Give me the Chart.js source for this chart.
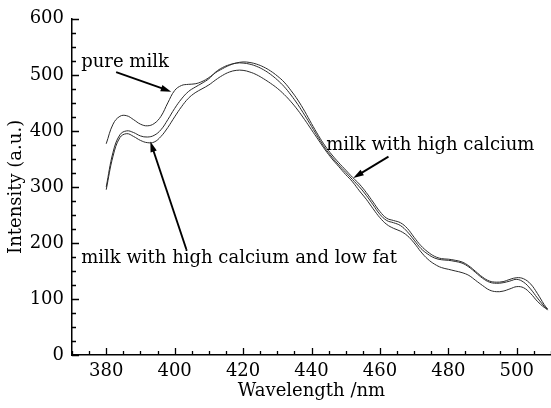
<!DOCTYPE html>
<html>
<head>
<meta charset="utf-8">
<script src="https://cdn.jsdelivr.net/npm/chart.js@4"></script>
<style>
  html, body { margin: 0; padding: 0; background: #fff; }
  #wrap { width: 551px; height: 408px; }
</style>
</head>
<body>
<div id="wrap"><canvas id="myChart" width="551" height="408"></canvas></div>
<script>
// wavelength (nm)
const wavelengths = [
  380, 382, 384, 386, 388, 390, 392, 394, 396, 398,
  400, 402, 404, 406, 408, 410, 412, 414, 416, 418,
  420, 422, 424, 426, 428, 430, 432, 434, 436, 438,
  440, 442, 444, 446, 448, 450, 452, 454, 456, 458,
  460, 462, 464, 466, 468, 470, 472, 474, 476, 478,
  480, 482, 484, 486, 488, 490, 492, 494, 496, 498,
  500, 502, 504, 506, 508, 509
];

const pureMilk = [
  377, 412, 426, 427, 420, 412, 409, 413, 426, 450,
  472, 481, 483, 484, 488, 495, 504, 511, 517, 521,
  523, 522, 519, 514, 507, 498, 487, 472, 455, 435,
  413, 392, 373, 357, 343, 330, 317, 305, 290, 273,
  256, 244, 240, 236, 226, 210, 195, 184, 176, 172,
  171, 169, 166, 159, 149, 139, 132, 130, 131, 135,
  138, 136, 127, 110, 90, 82
];

const highCalcium = [
  300, 362, 393, 400, 397, 391, 389, 392, 402, 420,
  440, 457, 470, 478, 485, 493, 505, 513, 518, 521,
  521, 519, 515, 509, 501, 491, 479, 464, 447, 428,
  408, 388, 369, 353, 339, 326, 313, 300, 285, 268,
  251, 240, 236, 231, 220, 205, 190, 180, 173, 170,
  169, 167, 164, 157, 147, 137, 130, 128, 129, 132,
  135, 130, 118, 102, 87, 80
];

const highCalciumLowFat = [
  295, 355, 388, 395, 390, 383, 379, 380, 390, 406,
  425, 443, 458, 468, 475, 482, 491, 499, 505, 508,
  508, 505, 500, 493, 485, 476, 465, 452, 437, 420,
  402, 384, 366, 350, 336, 322, 309, 293, 278, 261,
  245, 233, 226, 221, 213, 200, 184, 171, 162, 156,
  153, 150, 147, 142, 133, 124, 116, 113, 114, 118,
  122, 120, 110, 96, 85, 82
];

const xTickLabels = [380, 400, 420, 440, 460, 480, 500];
const yTickLabels = [0, 100, 200, 300, 400, 500, 600];

// label text, text anchor and arrow (tail -> head), in data units
const notes = [
  { text: "pure milk", at: [372.7, 514], from: [382.9, 505], to: [399.0, 470] },
  { text: "milk with high calcium", at: [444.3, 365], from: [462.5, 354], to: [452.2, 316] },
  { text: "milk with high calcium and low fat", at: [372.7, 165], from: [403.4, 189], to: [392.9, 381] },
];

const FONT = "DejaVu Serif";
const SIZE = 18;
const INK = "#000";

const toPoints = (ys) => ys.map((y, i) => ({ x: wavelengths[i], y: y }));

const lineStyle = {
  borderColor: "#2a2a2a",
  borderWidth: 1,
  pointRadius: 0,
  tension: 0.4,
  fill: false,
};

const axisExtras = {
  id: "axisExtras",
  afterDraw(chart) {
    const ctx = chart.ctx;
    const x = chart.scales.x;
    const y = chart.scales.y;
    const area = chart.chartArea;
    ctx.save();
    ctx.strokeStyle = INK;
    ctx.lineWidth = 1.3;
    ctx.beginPath();
    // inward ticks on the x axis
    for (let v = x.min; v <= x.max; v += 5) {
      const px = Math.round(x.getPixelForValue(v)) + 0.5;
      const len = v % 20 === 0 ? 7 : 4;
      ctx.moveTo(px, area.bottom);
      ctx.lineTo(px, area.bottom - len);
    }
    // inward ticks on the y axis
    for (let v = y.min; v <= y.max; v += 25) {
      const py = Math.round(y.getPixelForValue(v)) + 0.5;
      const len = v % 100 === 0 ? 7 : 4;
      ctx.moveTo(area.left, py);
      ctx.lineTo(area.left + len, py);
    }
    ctx.stroke();

    // annotations
    ctx.fillStyle = INK;
    ctx.font = SIZE + "px '" + FONT + "'";
    ctx.textAlign = "left";
    ctx.textBaseline = "alphabetic";
    notes.forEach((n) => {
      ctx.fillText(n.text, x.getPixelForValue(n.at[0]), y.getPixelForValue(n.at[1]));
      const x0 = x.getPixelForValue(n.from[0]);
      const y0 = y.getPixelForValue(n.from[1]);
      const x1 = x.getPixelForValue(n.to[0]);
      const y1 = y.getPixelForValue(n.to[1]);
      const ang = Math.atan2(y1 - y0, x1 - x0);
      const head = 11;
      const wing = 0.3;
      ctx.lineWidth = 1.8;
      ctx.beginPath();
      ctx.moveTo(x0, y0);
      ctx.lineTo(x1 - Math.cos(ang) * head * 0.8, y1 - Math.sin(ang) * head * 0.8);
      ctx.stroke();
      ctx.beginPath();
      ctx.moveTo(x1, y1);
      ctx.lineTo(x1 - head * Math.cos(ang - wing), y1 - head * Math.sin(ang - wing));
      ctx.lineTo(x1 - head * Math.cos(ang + wing), y1 - head * Math.sin(ang + wing));
      ctx.closePath();
      ctx.fill();
    });
    ctx.restore();
  },
};

const ctx = document.getElementById("myChart").getContext("2d");
new Chart(ctx, {
  type: "line",
  data: {
    datasets: [
      { label: "pure milk", data: toPoints(pureMilk), ...lineStyle },
      { label: "milk with high calcium", data: toPoints(highCalcium), ...lineStyle },
      { label: "milk with high calcium and low fat", data: toPoints(highCalciumLowFat), ...lineStyle },
    ],
  },
  options: {
    responsive: false,
    animation: false,
    layout: { padding: { top: 13, right: 0, left: 0, bottom: 0 } },
    plugins: {
      legend: { display: false },
      tooltip: { enabled: false },
    },
    scales: {
      x: {
        type: "linear",
        min: 370,
        max: 510,
        afterBuildTicks: (s) => { s.ticks = xTickLabels.map((v) => ({ value: v })); },
        afterFit: (s) => { s.height = 53; },
        grid: { display: false, drawTicks: false },
        border: { display: true, color: INK, width: 1.5 },
        ticks: { color: INK, font: { family: FONT, size: SIZE }, padding: 6, maxRotation: 0 },
        title: {
          display: true,
          text: "Wavelength /nm",
          color: INK,
          font: { family: FONT, size: SIZE },
          padding: { top: 0, bottom: 6 },
        },
      },
      y: {
        min: 0,
        max: 600,
        afterBuildTicks: (s) => { s.ticks = yTickLabels.map((v) => ({ value: v })); },
        afterFit: (s) => { s.width = 72; },
        grid: { display: false, drawTicks: false },
        border: { display: true, color: INK, width: 1.5 },
        ticks: { color: INK, font: { family: FONT, size: SIZE }, padding: 8 },
        title: {
          display: true,
          text: "Intensity (a.u.)",
          color: INK,
          font: { family: FONT, size: SIZE },
          padding: { top: 6, bottom: 0 },
        },
      },
    },
  },
  plugins: [axisExtras],
});
</script>
</body>
</html>
